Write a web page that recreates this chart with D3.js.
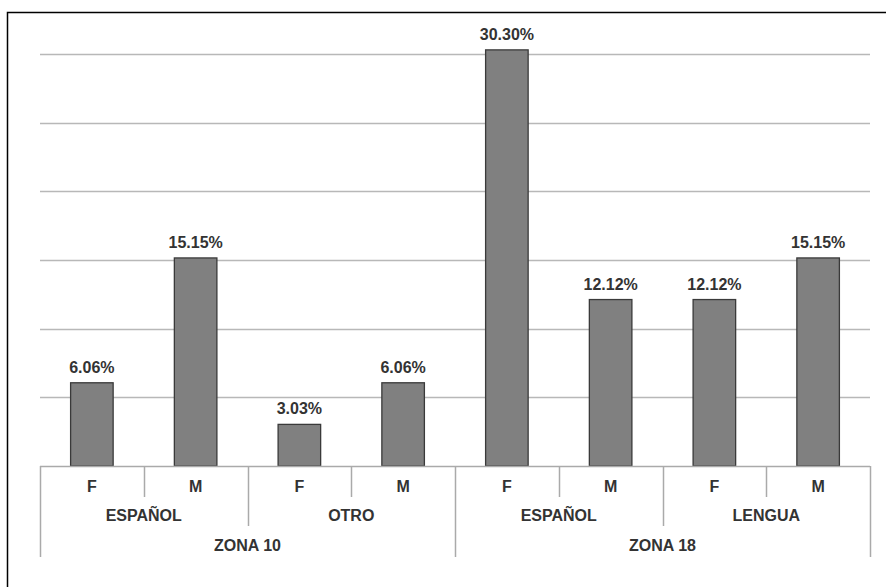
<!DOCTYPE html>
<html><head><meta charset="utf-8">
<script src="https://cdn.jsdelivr.net/npm/d3@7"></script>
<style>
html,body{margin:0;padding:0;background:#fff;}
svg{display:block;}
text{font-family:"Liberation Sans",Arial,sans-serif;font-weight:bold;fill:#333;}
</style></head><body>
<svg id="c" width="886" height="587"></svg>
<script>
const zones = ["ZONA 10", "ZONA 18"];
const languages = ["ESPAÑOL", "OTRO", "ESPAÑOL", "LENGUA"];
const sexes = ["F", "M", "F", "M", "F", "M", "F", "M"];
const values = [6.06, 15.15, 3.03, 6.06, 30.30, 12.12, 12.12, 15.15];
const valueLabels = ["6.06%", "15.15%", "3.03%", "6.06%", "30.30%", "12.12%", "12.12%", "15.15%"];
const yTicks = [0, 5, 10, 15, 20, 25, 30];

const svg = d3.select("#c");
const m = {left: 40, right: 870, top: 54, bottom: 466};

// outer frame
svg.append("rect").attr("x", 7.5).attr("y", 12.5).attr("width", 900).attr("height", 600)
  .attr("fill", "none").attr("stroke", "#000").attr("stroke-width", 1.5);

const idx = values.map((d, i) => i);
const x = d3.scaleBand().domain(idx).range([m.left, m.right]).paddingInner(0).paddingOuter(0);
const y = d3.scaleLinear().domain([0, 30]).range([m.bottom, m.top]);

// gridlines
svg.append("g").selectAll("line").data(yTicks.slice(1)).join("line")
  .attr("x1", m.left).attr("x2", m.right)
  .attr("y1", d => Math.round(y(d)) + 0.5).attr("y2", d => Math.round(y(d)) + 0.5)
  .attr("stroke", "#b8b8b8").attr("stroke-width", 1.5);

// bars
const bw = x.bandwidth() * 0.41;
svg.append("g").selectAll("rect").data(idx).join("rect")
  .attr("x", i => x(i) + (x.bandwidth() - bw) / 2)
  .attr("y", i => y(values[i]))
  .attr("width", bw)
  .attr("height", i => y(0) - y(values[i]))
  .attr("fill", "#808080").attr("stroke", "#3a3a3a").attr("stroke-width", 1.3);

// value labels
svg.append("g").selectAll("text").data(idx).join("text")
  .attr("x", i => x(i) + x.bandwidth() / 2)
  .attr("y", i => y(values[i]) - 10)
  .attr("text-anchor", "middle").attr("font-size", 16)
  .text(i => valueLabels[i]);

// baseline
const ax = svg.append("g").attr("stroke", "#aaaaaa").attr("stroke-width", 1.5);
ax.append("line").attr("x1", m.left).attr("x2", m.right).attr("y1", m.bottom + 0.5).attr("y2", m.bottom + 0.5);

// hierarchical category axis separators
const bounds = d3.range(0, sexes.length + 1);
const bx = b => b === sexes.length ? m.right : x(b);
bounds.forEach(b => {
  let len = 31;
  if (b % 2 === 0) len = 60;
  if (b % 4 === 0) len = 91;
  ax.append("line").attr("x1", Math.round(bx(b)) + 0.5).attr("x2", Math.round(bx(b)) + 0.5)
    .attr("y1", m.bottom).attr("y2", m.bottom + len);
});

const labels = svg.append("g").attr("text-anchor", "middle").attr("font-size", 16);
sexes.forEach((s, i) => {
  labels.append("text").attr("x", x(i) + x.bandwidth() / 2).attr("y", m.bottom + 26).text(s);
});
languages.forEach((l, j) => {
  labels.append("text").attr("x", x(j * 2) + x.bandwidth()).attr("y", m.bottom + 55).text(l);
});
zones.forEach((z, k) => {
  labels.append("text").attr("x", x(k * 4) + 2 * x.bandwidth()).attr("y", m.bottom + 85).text(z);
});
</script>
</body></html>
